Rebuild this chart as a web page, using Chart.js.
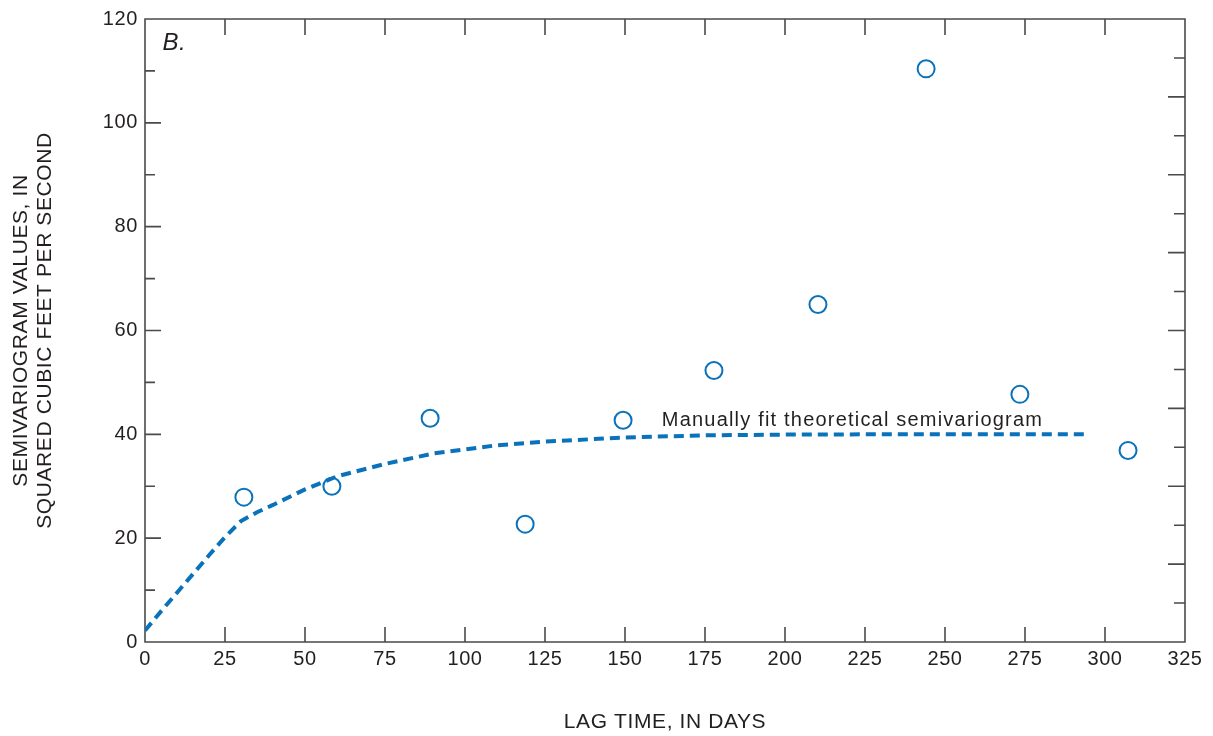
<!DOCTYPE html>
<html>
<head>
<meta charset="utf-8">
<script src="https://cdn.jsdelivr.net/npm/chart.js@4.4.1/dist/chart.umd.min.js"></script>
<style>
  html, body { margin: 0; padding: 0; background: #ffffff; }
  canvas { display: block; }
</style>
</head>
<body>
<canvas id="chart" width="1213" height="736"></canvas>
<script>
// Observed semivariogram values
const lagDays = [30.9, 58.4, 89.1, 118.8, 149.4, 177.8, 210.3, 244.1, 273.4, 307.2];
const semivariance = [27.9, 30.0, 43.1, 22.7, 42.7, 52.3, 65.0, 110.4, 47.7, 36.9];

// Manually fit theoretical semivariogram
const fitLag = [0, 5, 10, 15, 20, 25, 30, 35, 40, 50, 60, 75, 90, 110, 125, 150, 175, 200, 225, 250, 275, 293.5];
const fitValue = [2.2, 5.9, 9.5, 13.1, 16.7, 20.2, 23.3, 25.0, 26.4, 29.4, 31.9, 34.3, 36.3, 37.9, 38.6, 39.4, 39.8, 39.95, 40.0, 40.0, 40.0, 40.0];

// Axis ranges and tick spacing
const xRange = [0, 325];
const xStep = 25;
const yRange = [0, 120];
const yStep = 20;
const yMinorStep = 10;
const rightTickStep = 7.5;

const panelLabel = 'B.';
const curveLabel = 'Manually fit theoretical semivariogram';
const curveLabelPos = [161.5, 42.6];
const panelLabelPos = [5.5, 115.3];

const BLUE = '#0a72ba';
const TEXT = '#231f20';
const FRAME = '#4a4a4c';
const FONT = "'Liberation Sans', Arial, Helvetica, sans-serif";

const fitData = fitLag.map((x, i) => ({ x: x, y: fitValue[i] }));
const pointData = lagDays.map((x, i) => ({ x: x, y: semivariance[i] }));

const frameTicks = {
  id: 'frameTicks',
  beforeDraw(chart) {
    chart.ctx.letterSpacing = '0.6px';
  },
  beforeDatasetsDraw(chart) {
    const ctx = chart.ctx;
    const xs = chart.scales.x, ys = chart.scales.y;
    const L = xs.getPixelForValue(xRange[0]), R = xs.getPixelForValue(xRange[1]);
    const T = ys.getPixelForValue(yRange[1]), B = ys.getPixelForValue(yRange[0]);
    ctx.save();
    ctx.strokeStyle = FRAME;
    ctx.lineWidth = 1.6;
    ctx.beginPath();
    ctx.rect(L, T, R - L, B - T);
    ctx.stroke();
    ctx.beginPath();
    // bottom and top ticks
    for (let v = xRange[0] + xStep; v < xRange[1]; v += xStep) {
      const px = xs.getPixelForValue(v);
      ctx.moveTo(px, B); ctx.lineTo(px, B - 15);
      ctx.moveTo(px, T); ctx.lineTo(px, T + 16);
    }
    // left ticks
    for (let v = yRange[0] + yMinorStep; v < yRange[1]; v += yMinorStep) {
      const py = ys.getPixelForValue(v);
      const len = (v % yStep === 0) ? 16 : 10;
      ctx.moveTo(L, py); ctx.lineTo(L + len, py);
    }
    // right ticks
    let k = 1;
    for (let v = yRange[0] + rightTickStep; v < yRange[1] - 0.01; v += rightTickStep, k++) {
      const py = ys.getPixelForValue(v);
      const len = (k % 2 === 0) ? 17 : 11;
      ctx.moveTo(R, py); ctx.lineTo(R - len, py);
    }
    ctx.stroke();

    // panel label
    ctx.fillStyle = TEXT;
    ctx.letterSpacing = '0.5px';
    ctx.font = "italic 24px " + FONT;
    ctx.textAlign = 'left';
    ctx.textBaseline = 'middle';
    ctx.fillText(panelLabel, xs.getPixelForValue(panelLabelPos[0]), ys.getPixelForValue(panelLabelPos[1]));

    // curve label
    ctx.letterSpacing = '1.2px';
    ctx.font = "20px " + FONT;
    ctx.fillText(curveLabel, xs.getPixelForValue(curveLabelPos[0]), ys.getPixelForValue(curveLabelPos[1]));
    ctx.restore();
  }
};

new Chart(document.getElementById('chart'), {
  type: 'scatter',
  data: {
    datasets: [
      {
        label: curveLabel,
        data: fitData,
        showLine: true,
        borderColor: BLUE,
        borderWidth: 4,
        borderDash: [10, 6],
        borderCapStyle: 'butt',
        pointRadius: 0,
        tension: 0,
        fill: false
      },
      {
        label: 'Semivariogram values',
        data: pointData,
        showLine: false,
        pointStyle: 'circle',
        pointRadius: 8.5,
        pointBorderWidth: 2,
        pointBackgroundColor: 'rgba(255,255,255,0)',
        pointBorderColor: BLUE
      }
    ]
  },
  options: {
    responsive: false,
    animation: false,
    layout: { padding: { left: 0, right: 28, top: 18, bottom: 0 } },
    plugins: {
      legend: { display: false },
      tooltip: { enabled: false },
      title: { display: false }
    },
    scales: {
      x: {
        type: 'linear',
        position: 'bottom',
        min: xRange[0],
        max: xRange[1],
        afterFit(scale) { scale.height = 94; },
        grid: { display: false, drawTicks: false },
        border: { display: false },
        ticks: {
          stepSize: xStep,
          autoSkip: false,
          maxRotation: 0,
          padding: 5,
          color: TEXT,
          font: { family: FONT, size: 20 }
        },
        title: {
          display: true,
          text: 'LAG TIME, IN DAYS',
          color: TEXT,
          font: { family: FONT, size: 21 },
          padding: { top: 0, bottom: 1.5 }
        }
      },
      y: {
        type: 'linear',
        position: 'left',
        min: yRange[0],
        max: yRange[1],
        afterFit(scale) { scale.width = 145; },
        grid: { display: false, drawTicks: false },
        border: { display: false },
        ticks: {
          stepSize: yStep,
          padding: 7,
          color: TEXT,
          font: { family: FONT, size: 20 }
        },
        title: {
          display: true,
          text: ['SEMIVARIOGRAM VALUES, IN', 'SQUARED CUBIC FEET PER SECOND'],
          color: TEXT,
          font: { family: FONT, size: 21, lineHeight: 1.17 },
          padding: { top: 8.5, bottom: 0 }
        }
      }
    }
  },
  plugins: [frameTicks]
});
</script>
</body>
</html>
